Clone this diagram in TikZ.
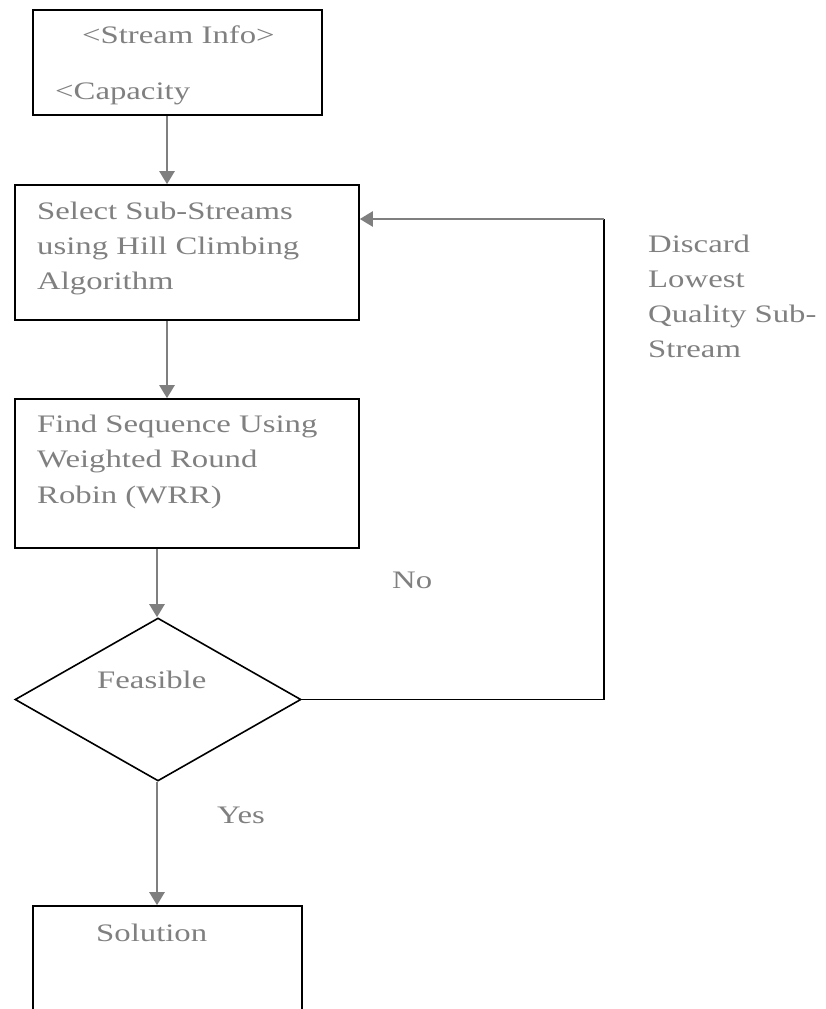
\documentclass[tikz,border=0pt]{standalone}
\usepackage{fontspec}
\setmainfont[FakeStretch=1.3]{Liberation Serif}
\usetikzlibrary{arrows.meta,shapes.geometric}
\definecolor{txtgray}{HTML}{808080}
\definecolor{arrgray}{HTML}{7F7F7F}
\begin{document}
\begin{tikzpicture}[x=1pt,y=-1pt,
  box/.style={draw=black,line width=1.6pt,inner sep=0pt,rectangle},
  lbl/.style={anchor=base west,inner sep=0pt,text=txtgray,font=\fontsize{25.2}{35}\selectfont},
  arr/.style={draw=arrgray,line width=2.4pt,-{Triangle[length=13pt,width=15pt]}},
  fb/.style={draw=black,line width=1.5pt}]
\useasboundingbox (0,0) rectangle (825,1009);
\clip (0,0) rectangle (825,1009);
% boxes
\node[box,minimum width=289pt,minimum height=105pt] (b1) at (177.5,62.5) {};
\node[box,minimum width=344pt,minimum height=135pt] (b2) at (187,252.5) {};
\node[box,minimum width=344pt,minimum height=149pt] (b3) at (187,473.5) {};
\node[draw=black,line width=1.6pt,shape=diamond,inner sep=0pt,minimum width=286pt,minimum height=163pt] (d) at (158,699.5) {};
\node[box,minimum width=269pt,minimum height=124pt] (b4) at (167.5,968) {};
% texts
\node[lbl] (t1a) at (82,43) {<Stream Info>};
\node[lbl] (t1b) at (55,99) {<Capacity};
\node[lbl] (t2a) at (37,219) {Select Sub-Streams};
\node[lbl] (t2b) at (37,254) {using Hill Climbing};
\node[lbl] (t2c) at (37,289) {Algorithm};
\node[lbl] (t3a) at (37,432) {Find Sequence Using};
\node[lbl] (t3b) at (37,467) {Weighted Round};
\node[lbl] (t3c) at (37,503) {Robin (WRR)};
\node[lbl] (tf) at (97,688) {Feasible};
\node[lbl] (ts) at (96,941) {Solution};
\node[lbl] (tyes) at (217,823) {Yes};
\node[lbl] (tno) at (392,588) {No};
\node[lbl] (td1) at (648,252) {Discard};
\node[lbl] (td2) at (648,287) {Lowest};
\node[lbl] (td3) at (648,322) {Quality Sub-};
\node[lbl] (td4) at (648,357) {Stream};
% connectors
\coordinate (c) at (604,219);
\draw[arr] ([xshift=-10.5pt]b1.south) -- ([xshift=-20pt]b2.north);
\draw[arr] ([xshift=-20pt]b2.south) -- ([xshift=-20pt]b3.north);
\draw[arr] ([xshift=-30pt]b3.south) -- ([xshift=-1pt]d.north);
\draw[arr] ([xshift=-1pt]d.south) -- ([xshift=-10.5pt]b4.north);
\draw[fb] (d.east) -| (c);
\draw[arr] (c) -- (c -| b2.east);
\end{tikzpicture}
\end{document}
